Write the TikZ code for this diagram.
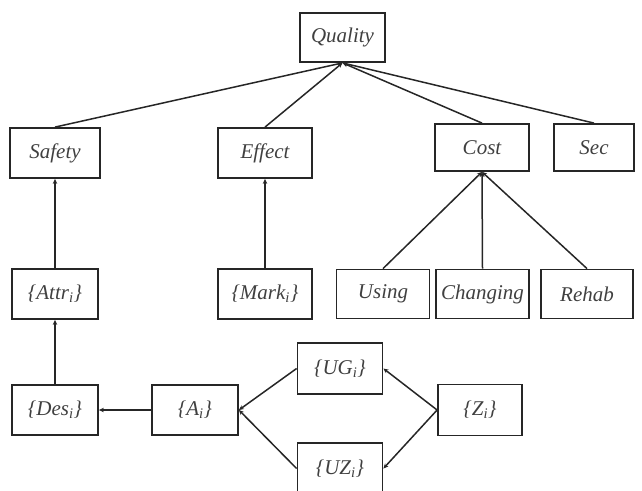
\documentclass[tikz,border=0pt]{standalone}
\usepackage{fontspec}
\setmainfont{Liberation Serif}[ItalicFont={Liberation Serif Italic}]
\usetikzlibrary{arrows.meta}
\newcommand{\sbi}{\textsubscript{\itshape i}}
\begin{document}
\begin{tikzpicture}[x=1pt,y=-1pt,
  box/.style={draw=black!85, line width=1.8pt, rectangle, inner sep=0pt, text=black!75,
    font=\fontsize{21}{24}\selectfont\itshape, minimum height=50pt},
  conn/.style={draw=black!85, line width=1.5pt, -{Stealth[length=5pt,width=4.5pt]}}]
\useasboundingbox (0,0) rectangle (642,490);
\node[box, minimum width=85pt, minimum height=49pt] (quality) at (342.5,37.5) {Quality};
\node[box, minimum width=90pt] (safety) at (55,153) {Safety};
\node[box, minimum width=94pt] (effect) at (265,153) {Effect};
\node[box, minimum width=94pt, minimum height=47pt] (cost) at (482,147.5) {Cost};
\node[box, minimum width=80pt, minimum height=47pt] (sec) at (594,147.5) {Sec};
\node[box, minimum width=86pt] (attr) at (55,294) {\{Attr\sbi\}};
\node[box, minimum width=94pt] (mark) at (265,294) {\{Mark\sbi\}};
\node[box, minimum width=93pt, minimum height=49pt] (using) at (383,294) {Using};
\node[box, minimum width=93pt, minimum height=49pt] (changing) at (482.5,294) {Changing};
\node[box, minimum width=92pt, minimum height=49pt] (rehab) at (587,294) {Rehab};
\node[box, minimum width=86pt] (des) at (55,410) {\{Des\sbi\}};
\node[box, minimum width=86pt] (a) at (195,410) {\{A\sbi\}};
\node[box, minimum width=85pt, minimum height=51pt] (ug) at (340,368.5) {\{UG\sbi\}};
\node[box, minimum width=85pt, minimum height=51pt] (uz) at (340,468.5) {\{UZ\sbi\}};
\node[box, minimum width=84pt, minimum height=51pt] (z) at (480,410) {\{Z\sbi\}};
\draw[conn] (safety.north) -- (quality.south);
\draw[conn] (effect.north) -- (quality.south);
\draw[conn] (cost.north) -- (quality.south);
\draw[conn] (sec.north) -- (quality.south);
\draw[conn] (using.north) -- (cost.south);
\draw[conn] (changing.north) -- (cost.south);
\draw[conn] (rehab.north) -- (cost.south);
\draw[conn] (attr.north) -- (safety.south);
\draw[conn] (mark.north) -- (effect.south);
\draw[conn] (des.north) -- (attr.south);
\draw[conn] (a.west) -- (des.east);
\draw[conn] (ug.west) -- (a.east);
\draw[conn] (uz.west) -- (a.east);
\draw[conn] (z.west) -- (ug.east);
\draw[conn] (z.west) -- (uz.east);
\end{tikzpicture}
\end{document}
